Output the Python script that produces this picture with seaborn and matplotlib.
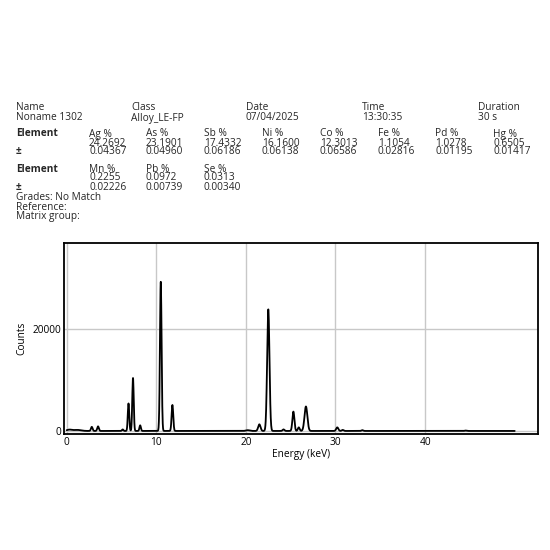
import numpy as np
import matplotlib
matplotlib.use("Agg")
import matplotlib.pyplot as plt
import seaborn as sns
import pandas as pd

sns.set_theme(style="white")
plt.rcParams['font.family'] = ['Open Sans', 'DejaVu Sans']

peak_kev = [0.3, 1.2, 2.8, 3.5, 6.25, 6.9, 7.4, 8.2, 10.5, 11.8, 20.2, 21.5, 22.5, 24.2, 25.3, 25.9, 26.7, 30.2, 30.8, 33.0, 44.5]
peak_counts = [250, 200, 800, 900, 300, 5400, 10400, 1100, 29300, 5100, 150, 1300, 23900, 300, 3800, 700, 4800, 700, 200, 150, 80]
peak_width = [0.3, 0.4, 0.09, 0.09, 0.08, 0.08, 0.08, 0.08, 0.09, 0.09, 0.2, 0.13, 0.13, 0.1, 0.11, 0.1, 0.16, 0.12, 0.1, 0.1, 0.1]

energy = np.linspace(0, 50, 3000)
counts = np.zeros_like(energy)
for c, h, w in zip(peak_kev, peak_counts, peak_width):
    counts += h * np.exp(-0.5 * ((energy - c) / w) ** 2)
df = pd.DataFrame({"Energy (keV)": energy, "Counts": counts})

fig = plt.figure(figsize=(5.5, 5.5), dpi=100)
fs = 7.3
def t(x, y, s, bold=False):
    fig.text(x / 550, 1 - y / 550, s, fontsize=fs, va='center', ha='left',
             fontweight='bold' if bold else 'normal')

hdr = [("Name", "Noname 1302", 16), ("Class", "Alloy_LE-FP", 131), ("Date", "07/04/2025", 246),
       ("Time", "13:30:35", 362), ("Duration", "30 s", 478)]
for a, b, x in hdr:
    t(x, 108, a); t(x, 118, b)

el1 = ["Ag %", "As %", "Sb %", "Ni %", "Co %", "Fe %", "Pd %", "Hg %"]
v1 = ["24.2692", "23.1901", "17.4332", "16.1600", "12.3013", "1.1054", "1.0278", "0.6505"]
e1 = ["0.04367", "0.04960", "0.06186", "0.06138", "0.06586", "0.02816", "0.01195", "0.01417"]
el2 = ["Mn %", "Pb %", "Se %"]
v2 = ["0.2255", "0.0972", "0.0313"]
e2 = ["0.02226", "0.00739", "0.00340"]
cols = [89, 146, 204, 262, 320, 378, 435, 493]
for y0, el, v, e in [(134, el1, v1, e1), (169, el2, v2, e2)]:
    t(16, y0, "Element", bold=True); t(16, y0 + 18, "±", bold=True)
    for i in range(len(el)):
        t(cols[i], y0, el[i]); t(cols[i], y0 + 9, v[i]); t(cols[i], y0 + 18, e[i])
t(16, 197, "Grades: No Match"); t(16, 207, "Reference:"); t(16, 217, "Matrix group:")

ax = fig.add_axes([64 / 550, 1 - 434 / 550, 474 / 550, 191 / 550])
sns.lineplot(data=df, x="Energy (keV)", y="Counts", ax=ax, color="black", linewidth=1.3)
ax.set_xlim(-0.3, 52.6)
ax.set_ylim(-600, 36900)
ax.set_xticks([0, 10, 20, 30, 40])
ax.set_yticks([0, 20000])
ax.grid(True, color="#c8c8c8", linewidth=1)
for s in ax.spines.values():
    s.set_color("black"); s.set_linewidth(1.3)
ax.tick_params(labelsize=fs, length=0, pad=2, colors="black")
ax.set_xlabel("Energy (keV)", fontsize=fs, labelpad=1, color="black")
ax.set_ylabel("Counts", fontsize=fs, labelpad=4, color="black")
fig.savefig("out.png", dpi=100)
